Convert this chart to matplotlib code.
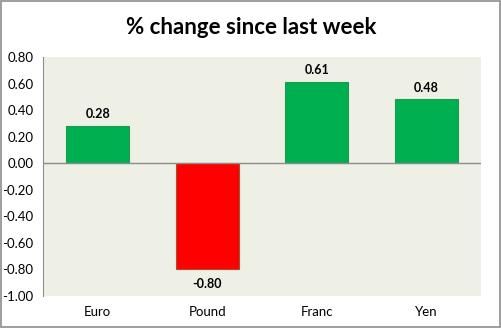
import numpy as np
import matplotlib.pyplot as plt
from matplotlib.patches import Rectangle

# Datos del gráfico
monedas = ['Euro', 'Pound', 'Franc', 'Yen']
cambios = [0.28, -0.80, 0.61, 0.48]
etiquetas_y = [0.80, 0.60, 0.40, 0.20, 0.00, -0.20, -0.40, -0.60, -0.80, -1.00]

plt.rcParams['font.family'] = ['Lato', 'DejaVu Sans']

fig = plt.figure(figsize=(5.02, 3.29), dpi=100)
ax = fig.add_axes([43 / 502, 1 - 296 / 329, 438 / 502, 239 / 329])

# Borde exterior del gráfico
fig.patches.append(Rectangle((0.002, 0.006), 0.995, 0.99, transform=fig.transFigure,
                             fill=False, edgecolor='#8c8c8c', linewidth=1.2))

colores = ['#00B050' if v >= 0 else '#FF0000' for v in cambios]
bordes = ['#1f9a4e' if v >= 0 else '#a0522d' for v in cambios]
x = np.arange(len(monedas))
ax.bar(x, cambios, width=0.575, color=colores, edgecolor=bordes, linewidth=0.8, zorder=3)

# Etiquetas de valor
for xi, v in zip(x, cambios):
    offset = 0.045 if v >= 0 else -0.065
    ax.text(xi, v + offset, f'{v:.2f}', ha='center', va='bottom' if v >= 0 else 'top',
            fontsize=9, fontweight='bold')

ax.set_facecolor('#EEF0E6')
ax.set_xlim(-0.5, len(monedas) - 0.5)
ax.set_ylim(-1.0, 0.8)
ax.set_yticks(etiquetas_y)
ax.set_yticklabels([f'{v:.2f}' for v in etiquetas_y], fontsize=9.5)
ax.set_xticks(x)
ax.set_xticklabels(monedas, fontsize=9.5)
ax.tick_params(axis='x', length=0, pad=7)
ax.tick_params(axis='y', length=0, pad=7)
ax.axhline(0, color='#8c8c8c', linewidth=1, zorder=4)
for s in ['top', 'right', 'bottom']:
    ax.spines[s].set_visible(False)
ax.spines['left'].set_color('#8c8c8c')

fig.text(0.5, 0.915, '% change since last week', ha='center', va='center',
         fontsize=16, fontweight='bold')

plt.savefig('out.png', dpi=100)
